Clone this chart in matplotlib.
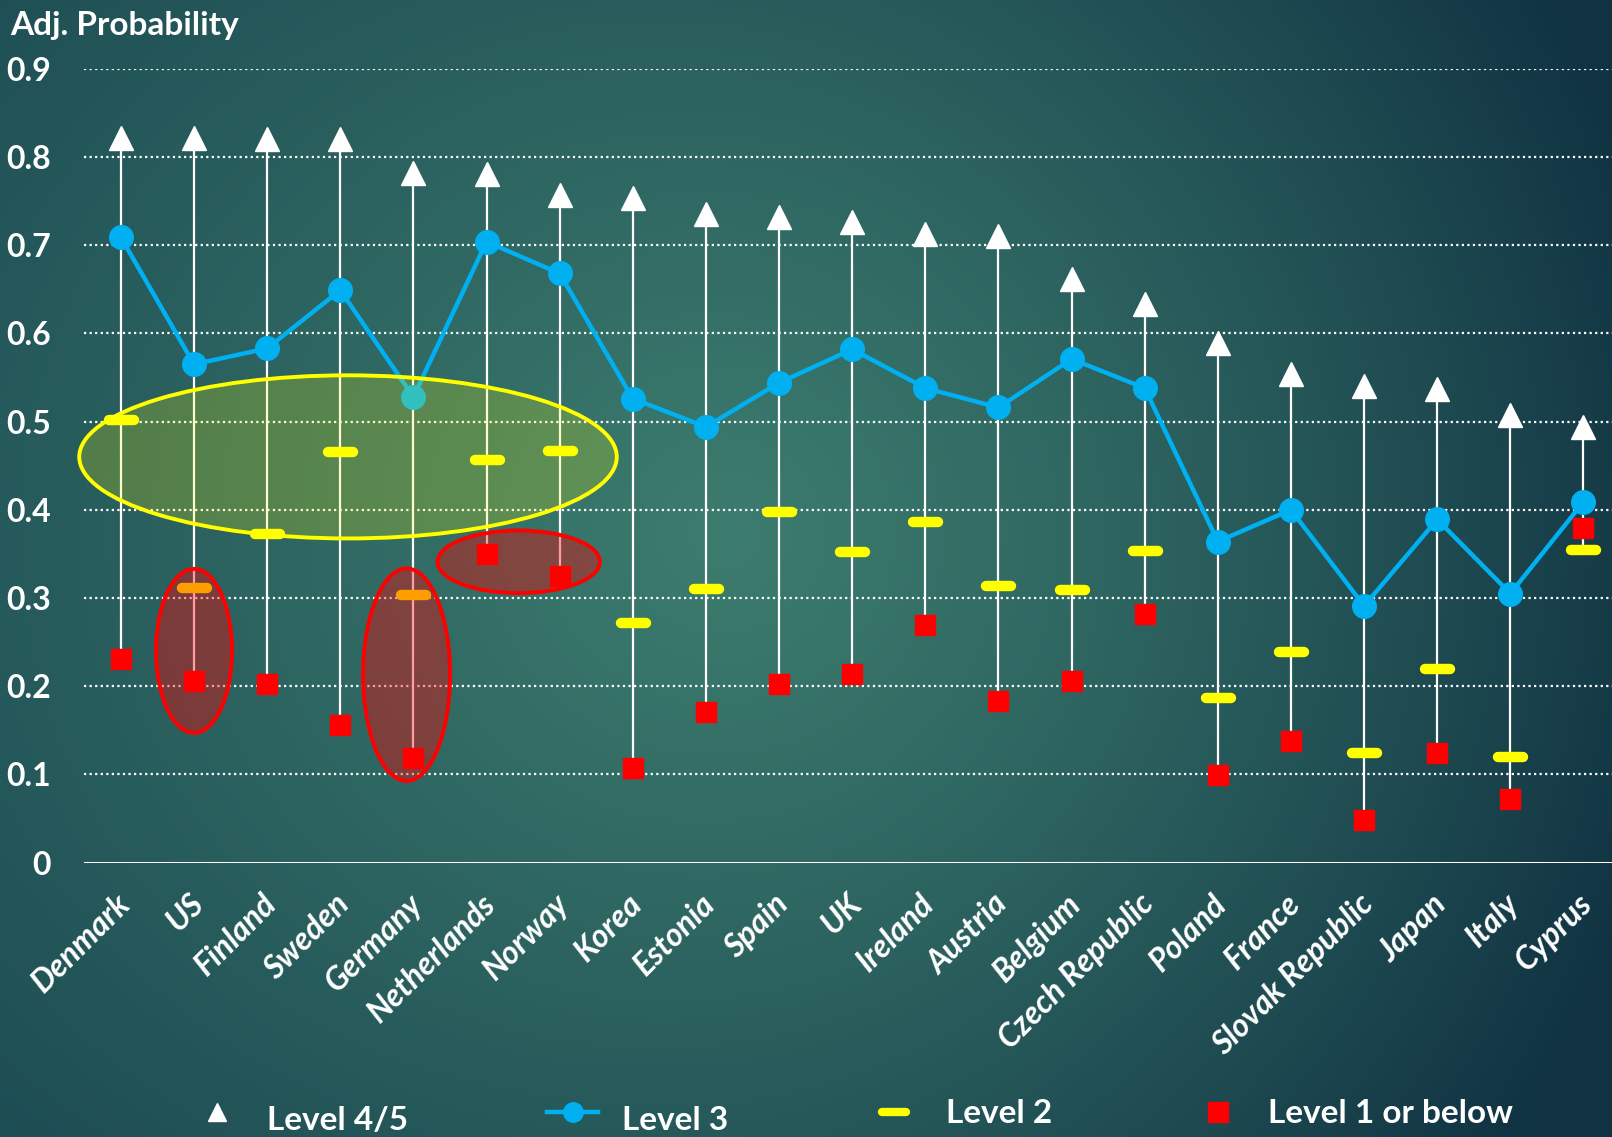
import numpy as np
import matplotlib
matplotlib.use("Agg")
import matplotlib.pyplot as plt
import matplotlib.transforms as mtransforms
from matplotlib.patches import Ellipse
from matplotlib.lines import Line2D
from matplotlib.markers import MarkerStyle

countries = ["Denmark", "US", "Finland", "Sweden", "Germany", "Netherlands", "Norway",
             "Korea", "Estonia", "Spain", "UK", "Ireland", "Austria", "Belgium",
             "Czech Republic", "Poland", "France", "Slovak Republic", "Japan", "Italy", "Cyprus"]
level45 = [0.822, 0.822, 0.820, 0.820, 0.782, 0.781, 0.757, 0.754, 0.735, 0.732, 0.726,
           0.713, 0.711, 0.662, 0.633, 0.589, 0.554, 0.540, 0.537, 0.508, 0.494]
level3 = [0.709, 0.565, 0.583, 0.649, 0.528, 0.704, 0.668, 0.526, 0.494, 0.544, 0.582,
          0.538, 0.516, 0.571, 0.538, 0.364, 0.400, 0.291, 0.389, 0.305, 0.409]
level2 = [0.502, 0.311, 0.372, 0.465, 0.303, 0.457, 0.467, 0.272, 0.310, 0.397, 0.352,
          0.386, 0.314, 0.309, 0.353, 0.186, 0.239, 0.124, 0.219, 0.120, 0.354]
level1 = [0.231, 0.206, 0.202, 0.156, 0.119, 0.350, 0.325, 0.107, 0.171, 0.202, 0.214,
          0.269, 0.183, 0.206, 0.282, 0.099, 0.138, 0.048, 0.124, 0.072, 0.379]
yticks = [0, 0.1, 0.2, 0.3, 0.4, 0.5, 0.6, 0.7, 0.8, 0.9]
ytick_labels = ["0", "0.1", "0.2", "0.3", "0.4", "0.5", "0.6", "0.7", "0.8", "0.9"]
legend_labels = ["Level 4/5", "Level 3", "Level 2", "Level 1 or below"]

FONT = "Lato"
W, H = 1612, 1137
fig = plt.figure(figsize=(W / 100, H / 100), dpi=100)

# background gradient
bg = fig.add_axes([0, 0, 1, 1], zorder=-10)
ny, nx = 300, 420
X, Y = np.meshgrid(np.linspace(0, 1, nx), np.linspace(0, 1, ny))
center = np.array([0x3c, 0x7c, 0x6e]) / 255
edge_l = np.array([0x1c, 0x4b, 0x53]) / 255
edge_r = np.array([0x10, 0x32, 0x42]) / 255
d = np.sqrt(((X - 0.45) / 0.62) ** 2 + ((Y - 0.47) / 0.85) ** 2)
t = np.clip(d, 0, 1) ** 1.1
edge = edge_l[None, None, :] * (1 - X[..., None]) + edge_r[None, None, :] * X[..., None]
img = center[None, None, :] * (1 - t[..., None]) + edge * t[..., None]
bg.imshow(img, aspect="auto", extent=[0, 1, 1, 0], interpolation="bilinear")
bg.set_axis_off()


def fx(px):
    return px / 1568


def fy(py):
    return 1 - py / 1106


ax = fig.add_axes([fx(82), fy(839), 1 - fx(82), fy(67) - fy(839)])
ax.set_facecolor("none")
x = np.arange(len(countries))
ax.set_xlim(-0.5, 20.39)
ax.set_ylim(0, 0.9)

for s in ax.spines.values():
    s.set_visible(False)
for yv in yticks[1:]:
    ax.axhline(yv, color="white", lw=1.6, ls=(0, (1, 1.5)), zorder=1)
ax.axhline(0, color="white", lw=2.2, zorder=1)

# high-low lines
hi = np.max([level45, level3, level2, level1], axis=0)
lo = np.min([level45, level3, level2, level1], axis=0)
ax.vlines(x, lo, hi, color="white", lw=1.6, zorder=2)

ax.plot(x, level45, ls="none", marker="^", ms=17, color="white", zorder=5, clip_on=False)
ax.plot(x, level3, color="#00B0F0", lw=3.2, marker="o", ms=17, zorder=4)
dash = MarkerStyle("_", capstyle="round")
ax.plot(x, level2, ls="none", marker=dash, ms=18, mew=7.5, color="#FFFF00", zorder=5)
ax.plot(x, level1, ls="none", marker="s", ms=15, color="#FF0000", zorder=5)

# annotation ellipses
ax.add_patch(Ellipse((3.106, 0.460), 7.35, 0.185, facecolor=(1, 1, 0, 0.2),
                     edgecolor="#FFFF00", lw=2.8, zorder=6, clip_on=False))
for (cx, cy, w, h) in [(1.0, 0.240, 1.04, 0.186), (3.907, 0.213, 1.19, 0.241),
                       (5.44, 0.341, 2.22, 0.071)]:
    ax.add_patch(Ellipse((cx, cy), w, h, facecolor=(1, 0, 0, 0.38),
                         edgecolor="#FF0000", lw=2.8, zorder=6, clip_on=False))

ax.set_yticks(yticks)
ax.set_yticklabels(ytick_labels, fontsize=23, fontweight="bold", color="white", family=FONT)
ax.tick_params(axis="y", length=0, pad=24)
ax.set_xticks(x)
ax.set_xticklabels(countries, rotation=45, ha="right", va="top", rotation_mode="anchor",
                   fontsize=23, fontweight="bold", fontstyle="italic", color="white", family=FONT)
ax.tick_params(axis="x", length=0, pad=19)
shift = mtransforms.ScaledTranslation(-6 / 100, 0, fig.dpi_scale_trans)
for lab in ax.get_xticklabels():
    lab.set_transform(lab.get_transform() + shift)

fig.text(fx(10), fy(25), "Adj. Probability", fontsize=24, fontweight="bold", color="white",
         family=FONT, va="center", ha="left")

# legend
ly = fy(1082)
fig.add_artist(Line2D([fx(211)], [ly], marker="^", ms=13, color="white", ls="none"))
fig.add_artist(Line2D([fx(532), fx(582)], [ly, ly], color="#00B0F0", lw=3.2))
fig.add_artist(Line2D([fx(557)], [ly], marker="o", ms=14, color="#00B0F0", ls="none"))
fig.add_artist(Line2D([fx(870)], [ly], marker=dash, ms=17, mew=6, color="#FFFF00", ls="none"))
fig.add_artist(Line2D([fx(1185)], [ly], marker="s", ms=15, color="#FF0000", ls="none"))
for lx, lyy, lab in [(260, 1090, legend_labels[0]), (605, 1090, legend_labels[1]),
                     (920, 1083, legend_labels[2]), (1233, 1083, legend_labels[3])]:
    fig.text(fx(lx), fy(lyy), lab, fontsize=24, fontweight="bold", color="white",
             family=FONT, va="center", ha="left")

fig.savefig("out.png", dpi=100)
